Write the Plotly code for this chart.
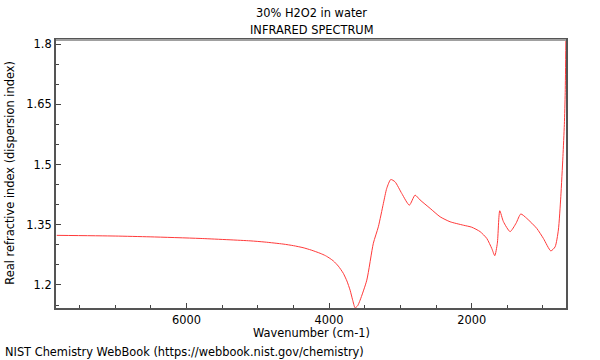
import plotly.graph_objects as go

# Wavenumber (cm-1) and real refractive index
wavenumber = [7819, 7000, 6510, 5809, 5108, 4900, 4645, 4500, 4365, 4250, 4126, 4050,
              3986, 3940, 3870, 3800, 3750, 3705, 3670, 3635, 3600, 3565, 3471, 3379,
              3309, 3238, 3191, 3135, 3074, 2980, 2874, 2794, 2724, 2583, 2443, 2303,
              2116, 1999, 1882, 1788, 1718, 1676, 1640, 1606, 1555, 1461, 1377, 1311,
              1227, 1087, 994, 890, 830, 784, 750, 720, 700, 688, 679]
refr_index = [1.3237, 1.322, 1.320, 1.316, 1.310, 1.307, 1.302, 1.298, 1.293, 1.287,
              1.279, 1.273, 1.266, 1.260, 1.247, 1.229, 1.210, 1.187, 1.163, 1.143,
              1.148, 1.162, 1.212, 1.304, 1.345, 1.4035, 1.441, 1.463, 1.457, 1.428,
              1.399, 1.424, 1.412, 1.391, 1.370, 1.3576, 1.349, 1.344, 1.333, 1.316,
              1.291, 1.273, 1.304, 1.385, 1.358, 1.333, 1.354, 1.377, 1.366, 1.341,
              1.316, 1.285, 1.295, 1.337, 1.42, 1.52, 1.60, 1.68, 1.81]

x_ticks = [6000, 4000, 2000]
y_ticks = [1.2, 1.35, 1.5, 1.65, 1.8]

FONT = "DejaVu Sans"
FS = 11.4

fig = go.Figure()
fig.add_trace(go.Scatter(x=wavenumber, y=refr_index, mode="lines",
                         line=dict(color="#ff3a3a", width=1, shape="spline", smoothing=0.6),
                         hoverinfo="skip", showlegend=False))

fig.update_layout(
    width=600, height=360,
    margin=dict(l=56, r=34, t=40, b=52),
    paper_bgcolor="white", plot_bgcolor="white",
    font=dict(family=FONT, size=FS, color="black"),
    xaxis=dict(range=[7830, 677], tickvals=x_ticks, ticktext=[str(v) for v in x_ticks],
               ticks="inside", ticklen=5, tickcolor="#444",
               showgrid=False, zeroline=False, showline=True, linecolor="#555", linewidth=2,
               mirror=True,
               minor=dict(dtick=500, tick0=0, ticks="inside", ticklen=3, tickcolor="#444", showgrid=False),
               tickfont=dict(family=FONT, size=FS)),
    yaxis=dict(range=[1.1426, 1.8107], tickvals=y_ticks, ticktext=["1.2", "1.35", "1.5", "1.65", "1.8"],
               ticks="inside", ticklen=5, tickcolor="#444",
               showgrid=False, zeroline=False, showline=True, linecolor="#555", linewidth=2,
               mirror=True,
               minor=dict(dtick=0.05, tick0=0, ticks="inside", ticklen=3, tickcolor="#444", showgrid=False),
               tickfont=dict(family=FONT, size=FS)),
)

# lighter top border
fig.add_shape(type="line", xref="paper", yref="paper", x0=0, x1=1, y0=1, y1=1,
              line=dict(color="#a0a0a0", width=2))

annots = [
    dict(text="30% H2O2 in water", x=0.5, y=1.1007),
    dict(text="INFRARED SPECTRUM", x=0.5, y=1.037),
    dict(text="Wavenumber (cm-1)", x=0.5, y=-0.093),
]
for a in annots:
    fig.add_annotation(xref="paper", yref="paper", x=a["x"], y=a["y"], text=a["text"],
                       showarrow=False, xanchor="center", yanchor="middle",
                       font=dict(family=FONT, size=FS, color="black"))
fig.add_annotation(xref="paper", yref="paper", x=-0.0902, y=0.505,
                   text="Real refractive index (dispersion index)", textangle=-90,
                   showarrow=False, xanchor="center", yanchor="middle",
                   font=dict(family=FONT, size=FS, color="black"))
fig.add_annotation(xref="paper", yref="paper", x=-0.1039, y=-0.164,
                   text="NIST Chemistry WebBook (https://webbook.nist.gov/chemistry)",
                   showarrow=False, xanchor="left", yanchor="middle",
                   font=dict(family=FONT, size=FS, color="black"))

fig.write_html("out.html", config={"displayModeBar": False},
               post_script="document.body.style.margin='0';")
